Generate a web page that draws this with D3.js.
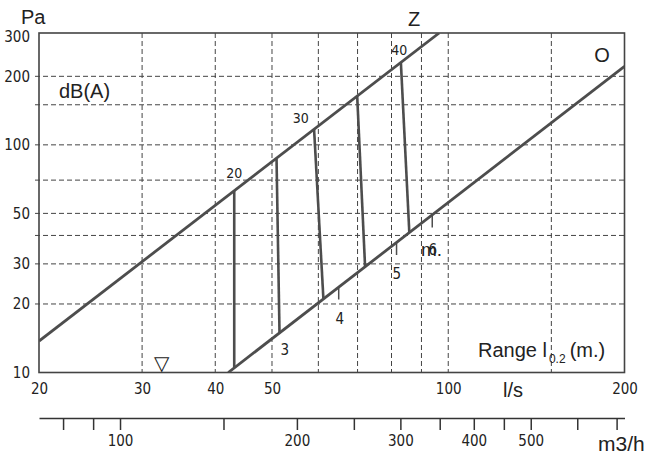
<!DOCTYPE html>
<html>
<head>
<meta charset="utf-8">
<script src="https://d3js.org/d3.v7.min.js"></script>
<style>
  body { margin: 0; background: #fff; }
  svg text { font-family: Arial, "Liberation Sans", sans-serif; fill: #222; }
  .num text, text.num { font-family: "Liberation Sans Narrow", "DejaVu Sans Condensed", Arial, sans-serif; }
</style>
</head>
<body>
<div id="chart"></div>
<script>
// flow (l/s) and pressure (Pa) ticks / grid
const flowTicks = [20, 30, 40, 50, 100, 200];
const flowGrid = [30, 40, 50, 60, 70, 80, 90, 100, 150];
const pressTicks = [10, 20, 30, 50, 100, 200, 300];
const pressGrid = [20, 30, 40, 50, 70, 100, 150, 200];
// second axis in m3/h
const m3hTicks = [80, 90, 100, 150, 200, 250, 300, 350, 400, 450, 500, 600, 700];
const m3hLabels = [100, 200, 300, 400, 500];

// the two boundary lines [l/s, Pa]
const lineZ = [[20, 13.75], [96.5, 310]];
const lineO = [[42.1, 10], [200, 221.4]];

// dB(A) isolines between Z and O
const isoLines = [
  [[43.1, 62.9], [43.1, 10.5]],
  [[50.9, 87.3], [51.5, 14.9]],
  [[59.0, 117.0], [61.2, 21.1]],
  [[69.9, 163.8], [72.1, 29.2]],
  [[83.0, 230.2], [85.8, 41.3]]
];
const dbLabels = ["20", "30", "40"];
const dbLabelQ = [43.1, 56.0, 82.5];
const dbLabelP = [75.2, 131.7, 261.2];

// throw range ticks on line O
const rangeTickQ = [65.0, 81.6, 93.9];
const rangeTickTop = [23.8, 37.4, 49.4];
const rangeTickBottom = [20.9, 32.8, 43.3];
const rangeNames = ["3", "4", "5", "6"];
const rangeLabelQ = [52.6, 65.3, 81.7, 94.1];
const rangeLabelP = [12.6, 17.3, 27.1, 34.7];

const markerQ = 32.4, markerP = 10.3;

const width = 645, height = 454;
const pLeft = 39, pRight = 624.5, pTop = 33, pBottom = 372.5;

const svg = d3.select("#chart").append("svg")
    .attr("width", width)
    .attr("height", height);

const x = d3.scaleLog().domain([20, 200]).range([pLeft, pRight]);
const y = d3.scaleLog().domain([10, 310]).range([pBottom, pTop]);
const xm = d3.scaleLog().domain([72.8, 722]).range([pLeft, pRight]);

svg.append("clipPath").attr("id", "plot")
  .append("rect")
    .attr("x", pLeft).attr("y", pTop)
    .attr("width", pRight - pLeft).attr("height", pBottom - pTop);

// grid
const grid = svg.append("g")
    .attr("stroke", "#444")
    .attr("stroke-width", 1)
    .attr("stroke-dasharray", "5,3");

grid.selectAll(".gx")
  .data(flowGrid)
  .enter().append("line")
    .attr("x1", d => x(d)).attr("x2", d => x(d))
    .attr("y1", pTop).attr("y2", pBottom);

grid.selectAll(".gy")
  .data(pressGrid)
  .enter().append("line")
    .attr("x1", pLeft - 4).attr("x2", pRight)
    .attr("y1", d => y(d)).attr("y2", d => y(d));

// frame
svg.append("rect")
    .attr("x", pLeft).attr("y", pTop)
    .attr("width", pRight - pLeft).attr("height", pBottom - pTop)
    .attr("fill", "none")
    .attr("stroke", "#444")
    .attr("stroke-width", 1.6);

// axes labels
const yAxis = svg.append("g")
    .attr("class", "num")
    .attr("transform", `translate(${pLeft},0)`)
    .call(d3.axisLeft(y).tickValues(pressTicks).tickSize(0).tickPadding(9).tickFormat(d3.format("d")));
yAxis.select(".domain").remove();

const xAxis = svg.append("g")
    .attr("class", "num")
    .attr("transform", `translate(0,${pBottom})`)
    .call(d3.axisBottom(x).tickValues(flowTicks).tickSize(0).tickPadding(11).tickFormat(d3.format("d")));
xAxis.select(".domain").remove();

const mAxis = svg.append("g")
    .attr("class", "num")
    .attr("transform", `translate(0,418)`)
    .call(d3.axisBottom(xm).tickValues(m3hTicks).tickSizeInner(12).tickSizeOuter(0).tickPadding(5)
      .tickFormat(d => m3hLabels.includes(d) ? d : ""));
mAxis.selectAll("line, path").attr("stroke", "#333").attr("stroke-width", 1.5);

svg.selectAll(".num text").attr("font-size", 15).attr("fill", "#222");

// lines
const line = d3.line().x(d => x(d[0])).y(d => y(d[1]));
const plot = svg.append("g").attr("clip-path", "url(#plot)");

plot.selectAll(".iso")
  .data(isoLines)
  .enter().append("path")
    .attr("d", line)
    .attr("fill", "none")
    .attr("stroke", "#4d4d4d")
    .attr("stroke-width", 2.6);

plot.selectAll(".bound")
  .data([lineZ, lineO])
  .enter().append("path")
    .attr("d", line)
    .attr("fill", "none")
    .attr("stroke", "#4d4d4d")
    .attr("stroke-width", 2.8);

plot.selectAll(".rtick")
  .data(rangeTickQ)
  .enter().append("line")
    .attr("x1", d => x(d)).attr("x2", d => x(d))
    .attr("y1", (d, i) => y(rangeTickTop[i]))
    .attr("y2", (d, i) => y(rangeTickBottom[i]))
    .attr("stroke", "#4d4d4d")
    .attr("stroke-width", 1.5);

svg.selectAll(".dbl")
  .data(dbLabels)
  .enter().append("text")
    .attr("class", "num")
    .attr("x", (d, i) => x(dbLabelQ[i]))
    .attr("y", (d, i) => y(dbLabelP[i]))
    .attr("dy", "0.35em")
    .attr("text-anchor", "middle")
    .attr("font-size", 14)
    .text(d => d);

svg.selectAll(".rl")
  .data(rangeNames)
  .enter().append("text")
    .attr("class", "num")
    .attr("x", (d, i) => x(rangeLabelQ[i]))
    .attr("y", (d, i) => y(rangeLabelP[i]))
    .attr("dy", "0.35em")
    .attr("text-anchor", "middle")
    .attr("font-size", 15)
    .text(d => d);

svg.append("text")
    .attr("x", x(markerQ))
    .attr("y", y(markerP))
    .attr("text-anchor", "middle")
    .attr("font-family", "DejaVu Sans")
    .attr("font-size", 20)
    .text("▽");

// annotations
const ann = (tx, ty, txt, size, anchor) => svg.append("text")
    .attr("x", tx).attr("y", ty)
    .attr("font-size", size)
    .attr("text-anchor", anchor || "start")
    .text(txt);

ann(21, 24, "Pa", 20);
ann(414, 26, "Z", 20, "middle");
ann(602, 62, "O", 20, "middle");
ann(59, 98, "dB(A)", 20);
ann(421, 256, "m.", 19);
ann(513, 397, "l/s", 20, "middle");
ann(598, 451, "m3/h", 21);

const range = ann(478, 357, "Range l", 20);
range.append("tspan").attr("font-size", 12).attr("dy", 6).attr("dx", 2).text("0.2");
range.append("tspan").attr("dy", -6).attr("dx", 4).text("(m.)");
</script>
</body>
</html>
